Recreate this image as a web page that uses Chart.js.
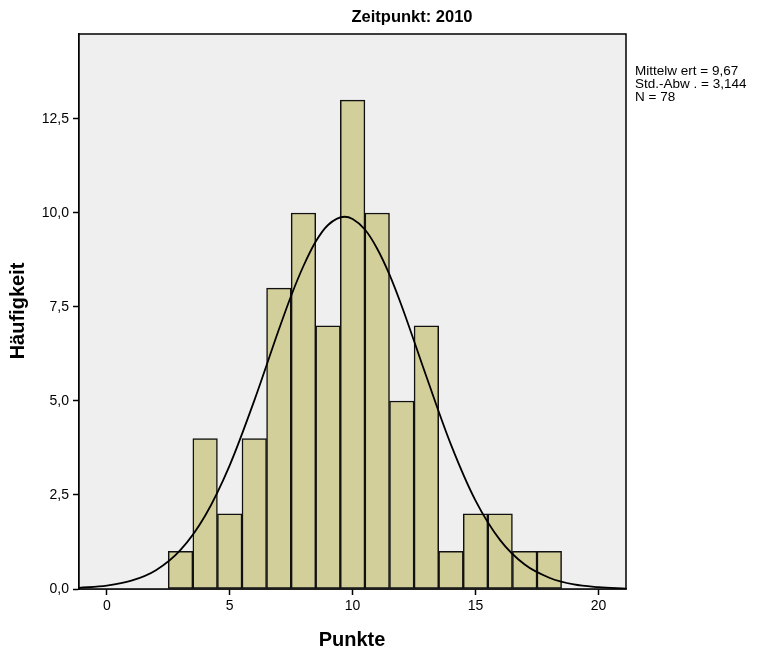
<!DOCTYPE html>
<html lang="de">
<head>
    <meta charset="UTF-8">
    <title>Zeitpunkt: 2010</title>
    <script src="https://cdn.jsdelivr.net/npm/chart.js"></script>
    <style>
        html, body { margin: 0; padding: 0; background: #fff; }
        #wrap { width: 757px; height: 651px; }
    </style>
</head>
<body>
    <div id="wrap"><canvas id="histChart" width="757" height="651"></canvas></div>

    <script>
        // Histogramm-Daten (Punkte -> Häufigkeit)
        const punkte = [3, 4, 5, 6, 7, 8, 9, 10, 11, 12, 13, 14, 15, 16, 17, 18];
        const haeufigkeit = [1, 4, 2, 4, 8, 10, 7, 13, 10, 5, 7, 1, 2, 2, 1, 1];

        // Normalverteilungskurve
        const kurveX = [-1.13, 0, 1, 2, 3, 4, 5, 6, 7, 7.5, 8, 8.5, 9, 9.67, 10, 10.5, 11, 11.5, 12, 13, 14, 15, 16, 17, 18, 19, 20, 21.12];
        const kurveY = [0.03, 0.09, 0.22, 0.5, 1.04, 1.95, 3.29, 5.01, 6.9, 7.8, 8.59, 9.24, 9.68, 9.9, 9.84, 9.56, 9.05, 8.36, 7.52, 5.65, 3.84, 2.35, 1.3, 0.65, 0.3, 0.12, 0.05, 0.01];

        const xTicks = [0, 5, 10, 15, 20];
        const yTicks = [0, 2.5, 5, 7.5, 10, 12.5];

        const titel = 'Zeitpunkt: 2010';
        const xTitel = 'Punkte';
        const yTitel = 'Häufigkeit';
        const statistik = ['Mittelw ert = 9,67', 'Std.-Abw . = 3,144', 'N = 78'];

        const FONT = '"Liberation Sans", Arial, sans-serif';

        // Texte und Rahmen zeichnen
        const beschriftung = {
            id: 'beschriftung',
            beforeDatasetsDraw(chart) {
                const { ctx, chartArea: a } = chart;
                ctx.save();
                ctx.fillStyle = '#efefef';
                ctx.fillRect(a.left, a.top, a.right - a.left, a.bottom - a.top);
                ctx.restore();
            },
            afterDraw(chart) {
                const { ctx, chartArea: a } = chart;
                ctx.save();
                ctx.strokeStyle = '#000';
                ctx.lineWidth = 1.5;
                ctx.strokeRect(a.left, a.top, a.right - a.left, a.bottom - a.top);

                ctx.fillStyle = '#000';
                ctx.textBaseline = 'middle';
                ctx.textAlign = 'center';
                ctx.font = 'bold 16.5px ' + FONT;
                ctx.fillText(titel, 412, 17);

                ctx.font = 'bold 20px ' + FONT;
                ctx.fillText(xTitel, 352, 640);

                ctx.save();
                ctx.translate(18, 311);
                ctx.rotate(-Math.PI / 2);
                ctx.fillText(yTitel, 0, 0);
                ctx.restore();

                ctx.textAlign = 'left';
                ctx.font = '13.5px ' + FONT;
                statistik.forEach((t, i) => ctx.fillText(t, 635, 71 + i * 13));
                ctx.restore();
            }
        };

        const ctx = document.getElementById('histChart').getContext('2d');
        new Chart(ctx, {
            type: 'bar',
            data: {
                datasets: [{
                    type: 'line',
                    data: kurveX.map((x, i) => ({ x: x, y: kurveY[i] })),
                    borderColor: '#000',
                    borderWidth: 1.8,
                    pointRadius: 0,
                    cubicInterpolationMode: 'monotone',
                    fill: false,
                    order: 0
                }, {
                    type: 'bar',
                    data: punkte.map((x, i) => ({ x: x, y: haeufigkeit[i] })),
                    backgroundColor: '#d3cf9b',
                    borderColor: '#111',
                    borderWidth: 1.5,
                    borderSkipped: false,
                    barPercentage: 1,
                    categoryPercentage: 1,
                    order: 1
                }]
            },
            options: {
                responsive: false,
                animation: false,
                layout: { padding: { top: 34, right: 131, left: 0, bottom: 0 } },
                plugins: {
                    legend: { display: false },
                    tooltip: { enabled: false }
                },
                scales: {
                    x: {
                        type: 'linear',
                        offset: false,
                        min: -1.13,
                        max: 21.12,
                        afterBuildTicks: s => { s.ticks = xTicks.map(v => ({ value: v })); },
                        afterFit: s => { s.height = 62; },
                        grid: { offset: false, drawOnChartArea: false, drawTicks: true, tickLength: 6, tickColor: '#000', tickWidth: 1.5 },
                        border: { display: true, color: '#000', width: 1.5 },
                        ticks: {
                            color: '#000',
                            font: { family: FONT, size: 14 },
                            padding: 3,
                            maxRotation: 0,
                            autoSkip: false,
                            callback: v => String(v)
                        }
                    },
                    y: {
                        min: 0,
                        max: 14.76,
                        afterBuildTicks: s => { s.ticks = yTicks.map(v => ({ value: v })); },
                        afterFit: s => { s.width = 79; },
                        grid: { drawOnChartArea: false, drawTicks: true, tickLength: 6, tickColor: '#000', tickWidth: 1.5 },
                        border: { display: true, color: '#000', width: 1.5 },
                        ticks: {
                            color: '#000',
                            font: { family: FONT, size: 14 },
                            padding: 4,
                            callback: v => v.toFixed(1).replace('.', ',')
                        }
                    }
                }
            },
            plugins: [beschriftung]
        });
    </script>
</body>
</html>
